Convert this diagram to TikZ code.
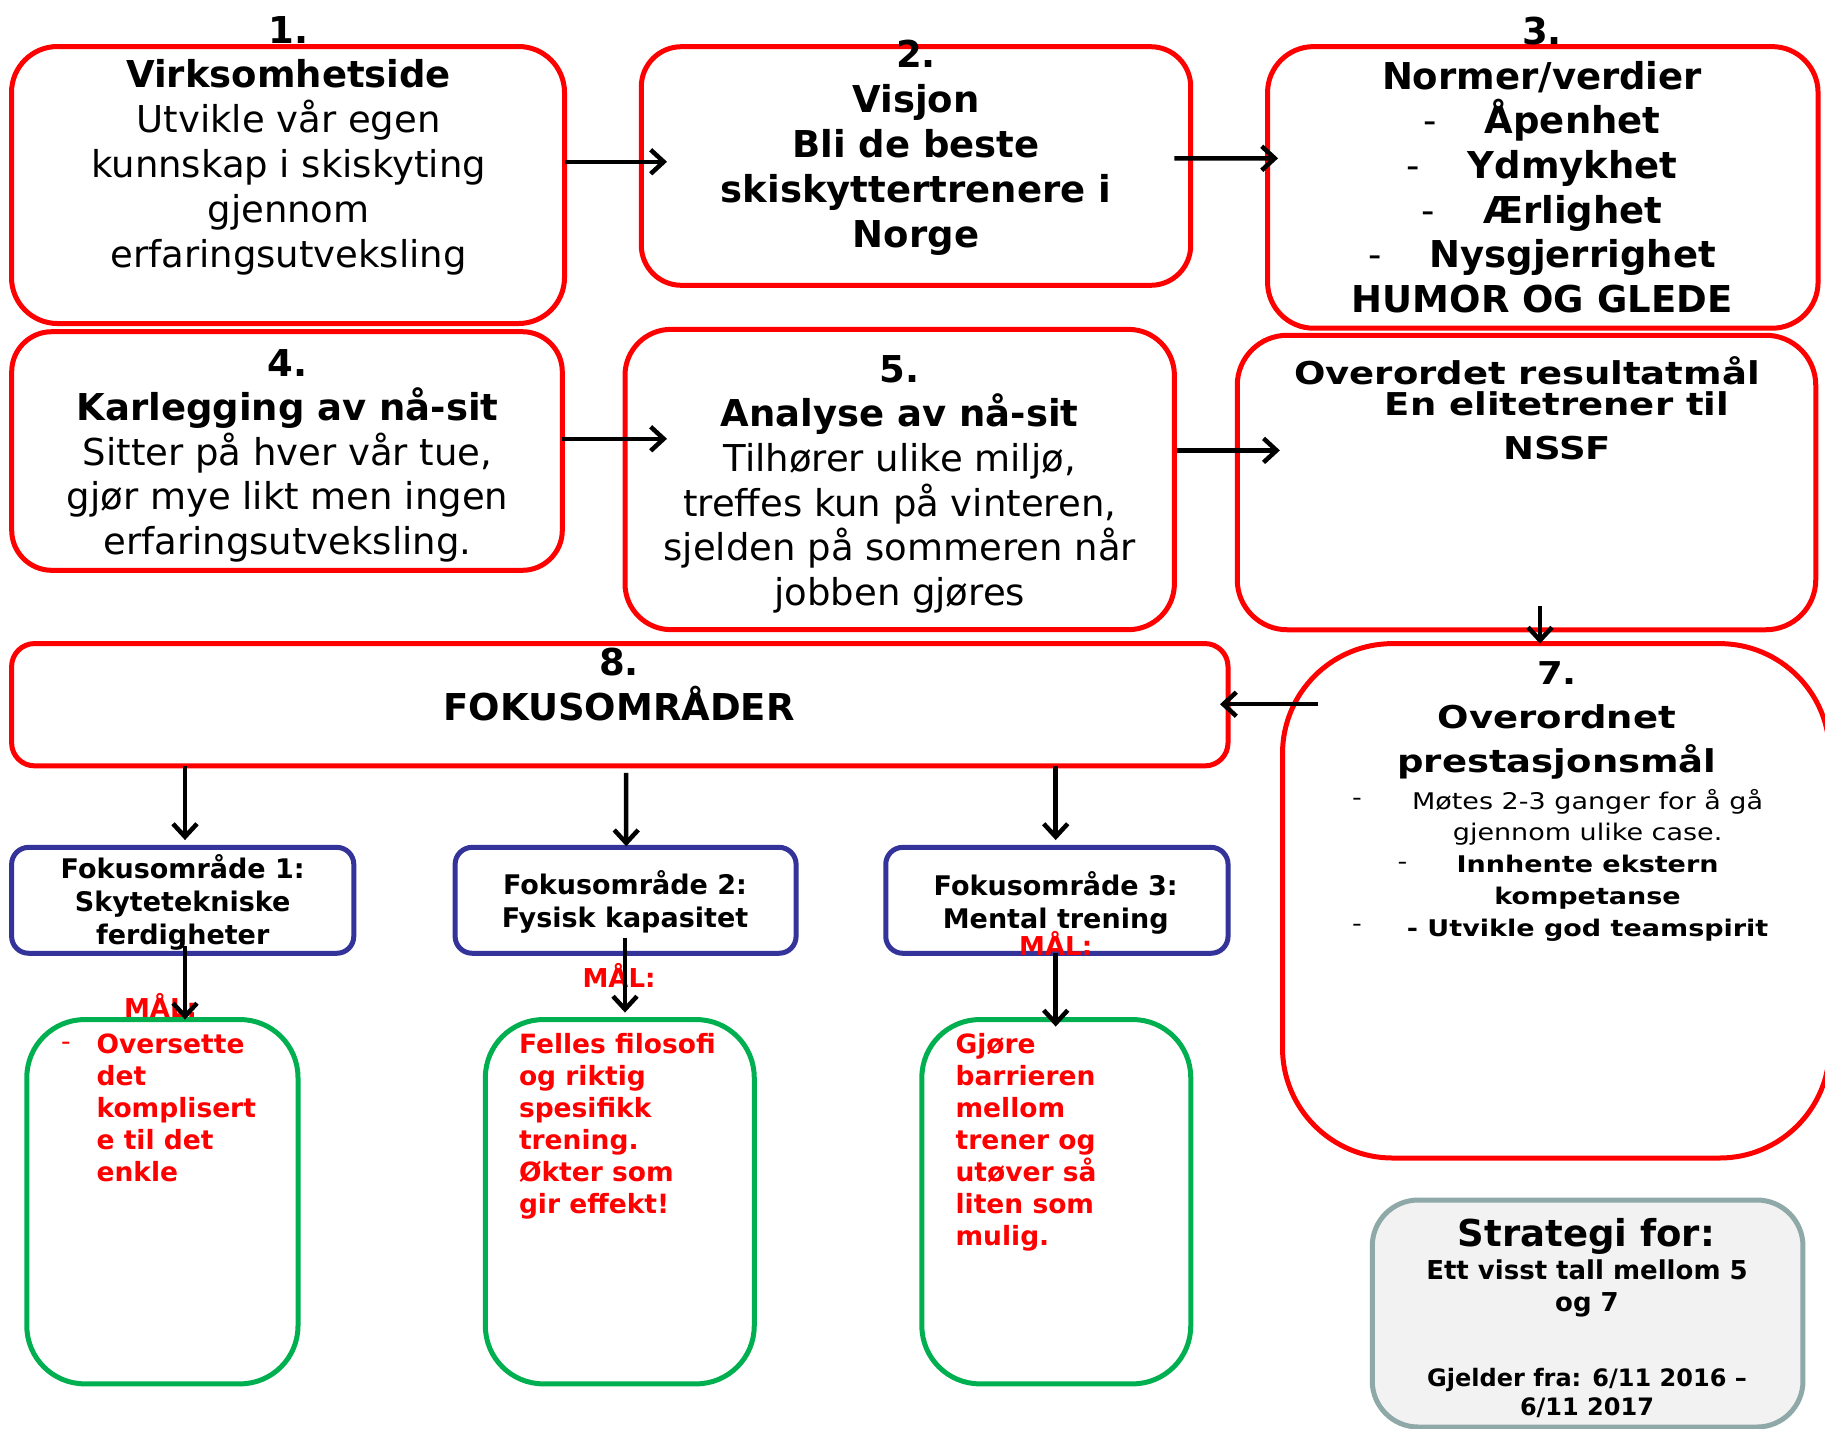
\documentclass[tikz,border=0pt]{standalone}
\usepackage{fontspec}
\usepackage{graphicx}
\setmainfont{DejaVu Sans}
\usetikzlibrary{arrows.meta,calc}

\definecolor{boxred}{HTML}{FF0000}
\definecolor{boxgreen}{HTML}{00B050}
\definecolor{boxblue}{HTML}{333399}
\definecolor{boxgray}{HTML}{8FA8A8}
\definecolor{boxfill}{HTML}{F2F2F2}

\newcommand\fsz[2]{\fontsize{#1}{#2}\selectfont}
\newcommand\sq[1]{\scalebox{1}[0.85]{#1}}

\begin{document}
\begin{tikzpicture}[x=1pt,y=-1pt,
  box/.style={line width=5pt, inner sep=0pt, outer sep=0pt},
  redbox/.style={box, draw=boxred, rounded corners=#1},
  bluebox/.style={box, draw=boxblue, rounded corners=17pt},
  greenbox/.style={box, draw=boxgreen, rounded corners=58pt},
  txt/.style={inner sep=0pt, outer sep=0pt, align=center},
  ltxt/.style={inner sep=0pt, outer sep=0pt, align=left, anchor=north west},
  arr/.style={line width=4.5pt, -{Straight Barb[length=13pt,width=24pt]}},
]
\fill[white] (0,0) rectangle (1825,1428);
\clip (0,0) rectangle (1825,1428);

% ---- boxes ----
\node[redbox=46pt, minimum width=553pt, minimum height=277pt] (b1) at (288,185) {};
\node[redbox=40pt, minimum width=549.4pt, minimum height=238.6pt] (b2) at (916,166) {};
\node[redbox=46pt, minimum width=550.5pt, minimum height=281.6pt] (b3) at (1542.8,187.4) {};
\node[redbox=40pt, minimum width=550.6pt, minimum height=238.6pt] (b4) at (287,451) {};
\node[redbox=46pt, minimum width=549.4pt, minimum height=300.3pt] (b5) at (899.7,479.5) {};
\node[redbox=50pt, minimum width=578.5pt, minimum height=294.5pt] (b6) at (1526.5,482.5) {};
\node[redbox=110pt, minimum width=547pt, minimum height=514.4pt] (b7) at (1556,900.8) {};
\node[redbox=23pt, minimum width=1216.4pt, minimum height=122.3pt] (b8) at (619.8,704.7) {};
\node[bluebox, minimum width=342.2pt, minimum height=105.9pt] (f1) at (182.7,900.3) {};
\node[bluebox, minimum width=341pt, minimum height=105.9pt] (f2) at (625.6,900.3) {};
\node[bluebox, minimum width=342.3pt, minimum height=105.9pt] (f3) at (1056.9,900.3) {};
\node[greenbox, minimum width=271.2pt, minimum height=364.3pt] (g1) at (162.4,1201.7) {};
\node[greenbox, minimum width=268.9pt, minimum height=364.3pt] (g2) at (619.8,1201.7) {};
\node[greenbox, minimum width=268.9pt, minimum height=364.3pt] (g3) at (1056.3,1201.7) {};
\node[box, draw=boxgray, fill=boxfill, rounded corners=46pt,
      minimum width=430.7pt, minimum height=227pt] (s) at (1587.6,1313.5) {};

% ---- box texts ----
\node[txt, font=\fsz{37}{44.8}] (t1) at (288.6,145.5)
  {\textbf{1.}\\ \textbf{Virksomhetside}\\ Utvikle vår egen\\ kunnskap i skiskyting\\ gjennom\\ erfaringsutveksling};
\node[txt, font=\fsz{37}{45.2}\bfseries] (t2) at (916,147.7)
  {2.\\ Visjon\\ Bli de beste\\ skiskyttertrenere i\\ Norge};
\node[txt, font=\fsz{37}{44.7}\bfseries] (t3) at (1542,165)
  {3.\\ Normer/verdier\\
   \textmd{-}\hspace{48pt}Åpenhet\\
   \textmd{-}\hspace{48pt}Ydmykhet\\
   \textmd{-}\hspace{48pt}Ærlighet\\
   \textmd{-}\hspace{48pt}Nysgjerrighet\\
   HUMOR OG GLEDE};
\node[txt, font=\fsz{37}{44.5}] (t4) at (287.5,455.5)
  {\textbf{4.}\\ \textbf{Karlegging av nå-sit}\\ Sitter på hver vår tue,\\ gjør mye likt men ingen\\ erfaringsutveksling.};
\node[txt, font=\fsz{37}{44.7}] (t5) at (899.7,484.2)
  {\textbf{5.}\\ \textbf{Analyse av nå-sit}\\ Tilhører ulike miljø,\\ treffes kun på vinteren,\\ sjelden på sommeren når\\ jobben gjøres};
\node[txt, font=\fsz{37}{44}\bfseries] (t6a) at (1527,371) {\sq{Overordet resultatmål}};
\node[txt, font=\fsz{37}{44}\bfseries] (t6b) at (1557,426) {\sq{En elitetrener til}\\ \sq{NSSF}};
\node[txt, font=\fsz{37}{44.2}\bfseries] (t7) at (1557,720.5)
  {\sq{7.}\\ \sq{Overordnet}\\ \sq{prestasjonsmål}};
\node[txt, font=\fsz{27}{31.7}] (t7l) at (1587.6,865)
  {\sq{Møtes 2-3 ganger for å gå}\\ \sq{gjennom ulike case.}\\
   \sq{\textbf{Innhente ekstern}}\\ \sq{\textbf{kompetanse}}\\
   \sq{\textbf{- Utvikle god teamspirit}}};
\node[txt, font=\fsz{27}{31.7}] (d7a) at (1357,801.5) {\sq{-}};
\node[txt, font=\fsz{27}{31.7}] (d7b) at (1402.5,865.5) {\sq{-}};
\node[txt, font=\fsz{27}{31.7}] (d7c) at (1357,928.3) {\sq{-}};
\node[txt, font=\fsz{37}{45.5}\bfseries] (t8) at (619,684.5) {8.\\ FOKUSOMRÅDER};

\node[txt, font=\fsz{27}{33}\bfseries] (tf1) at (182.7,902) {Fokusområde 1:\\ Skytetekniske\\ ferdigheter};
\node[txt, font=\fsz{27}{33}\bfseries] (tf2) at (625,902.3) {Fokusområde 2:\\ Fysisk kapasitet};
\node[txt, font=\fsz{27}{33}\bfseries] (tf3) at (1055.7,902.8) {Fokusområde 3:\\ Mental trening};

% ---- goal texts ----
\node[txt, font=\fsz{26}{32}\bfseries, text=boxred] (m1) at (160.6,1005.5) {MÅL:};
\node[txt, font=\fsz{26}{32}\bfseries, text=boxred] (m2) at (619,975.4) {MÅL:};
\node[txt, font=\fsz{26}{32}\bfseries, text=boxred] (m3) at (1055.7,943.7) {MÅL:};

\node[txt, font=\fsz{26.5}{32}, text=boxred] (dg1) at (66,1046.5) {-};
\node[ltxt, font=\fsz{26.5}{32}\bfseries, text=boxred] (tg1) at (96.6,1033.5)
  {Oversette\\ det\\ komplisert\\ e til det\\ enkle};
\node[ltxt, font=\fsz{26.5}{32}\bfseries, text=boxred] (tg2) at (519,1033.5)
  {Felles filosofi\\ og riktig\\ spesifikk\\ trening.\\ Økter som\\ gir effekt!};
\node[ltxt, font=\fsz{26.5}{32}\bfseries, text=boxred] (tg3) at (955.6,1033.5)
  {Gjøre\\ barrieren\\ mellom\\ trener og\\ utøver så\\ liten som\\ mulig.};

% ---- strategy box ----
\node[txt, font=\fsz{37}{44}\bfseries] (st1) at (1586.4,1236) {Strategi for:};
\node[txt, font=\fsz{26}{32}\bfseries] (st2) at (1587,1288.3) {Ett visst tall mellom 5\\ og 7};
\node[txt, font=\fsz{24}{29}\bfseries] (st3) at (1587,1392.5) {Gjelder fra: 6/11 2016 –\\ 6/11 2017};

% ---- connectors ----
\draw[arr] ($(b1.east)+(0,-23.2)$) -- ($(b2.west)+(25.7,-4.2)$);
\draw[arr] ($(b2.east)+(-16.3,-7.7)$) -- ($(b3.west)+(10.5,-29.1)$);
\draw[arr] ($(b4.east)+(0,-12.2)$) -- ($(b5.west)+(42,-40.7)$);
\draw[arr] ($(b5.east)+(2.3,-29.1)$) -- ($(b6.west)+(42.6,-32.1)$);
\draw[arr] ($(b6.south)+(13.5,-23.3)$) -- ($(b7.north)+(-16,0)$);
\draw[arr] ($(b7.west)+(35.9,-196.6)$) -- ($(b8.east)+(-8,-0.5)$);
\draw[arr] ($(b8.south west)+(173.4,0)$) -- ($(f1.north)+(2.3,-7.3)$);
\draw[arr] ($(b8.south)+(6.4,6.9)$) -- ($(f2.north)+(0.6,-1.1)$);
\draw[arr] ($(b8.south east)+(-172.3,0)$) -- ($(f3.north)+(-1.2,-7.3)$);
\draw[arr] ($(f1.south)+(2.3,-7.2)$) -- ($(g1.north)+(22.6,0)$);
\draw[arr] ($(f2.south)+(-0.6,-15.2)$) -- ($(g2.north)+(5.2,-7)$);
\draw[arr] ($(f3.south)+(-1.2,0)$) -- ($(g3.north)+(-0.6,7)$);
\end{tikzpicture}
\end{document}
